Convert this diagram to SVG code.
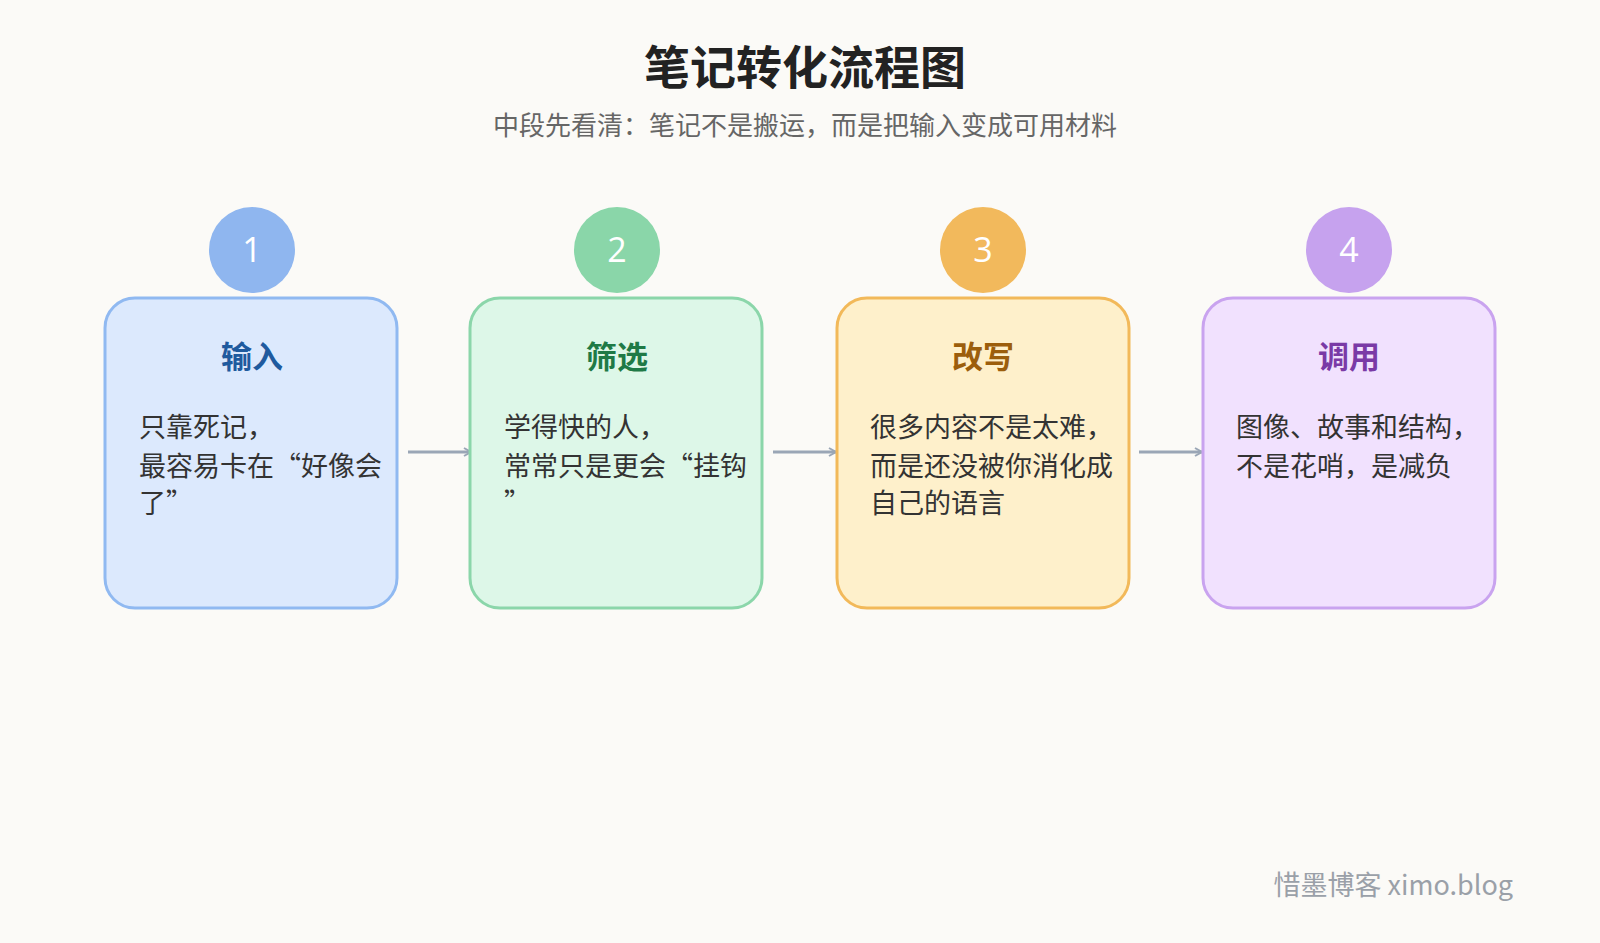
<svg xmlns="http://www.w3.org/2000/svg" width="1600" height="943" viewBox="0 0 1600 943">
<style>
text{font-family:"Noto Sans CJK SC","Noto Sans",sans-serif}
.h{font-size:31px;font-weight:bold;text-anchor:middle}
.b{font-size:27px;fill:#333}
.n{font-size:34px;fill:#fff;text-anchor:middle;font-family:"Open Sans",sans-serif}
.box{stroke-width:3}
.c{stroke:#9aa6b6;stroke-width:3;fill:none}
</style>
<defs><marker id="ar" markerWidth="10" markerHeight="10" refX="8" refY="5" orient="auto" markerUnits="userSpaceOnUse"><path d="M1,1 L8,5 L1,9" fill="none" stroke="#9aa6b6" stroke-width="2"/></marker></defs>
<rect width="1600" height="943" fill="#fbfaf7"/>
<text x="805" y="84" font-size="46" font-weight="bold" text-anchor="middle" fill="#222">笔记转化流程图</text>
<text x="805" y="135" font-size="26" text-anchor="middle" fill="#666">中段先看清：笔记不是搬运，而是把输入变成可用材料</text>
<g id="connectors">
<line class="c" x1="408" y1="452" x2="471" y2="452" marker-end="url(#ar)"/>
<line class="c" x1="773" y1="452" x2="836" y2="452" marker-end="url(#ar)"/>
<line class="c" x1="1139" y1="452" x2="1202" y2="452" marker-end="url(#ar)"/>
</g>
<g id="node1">
<rect class="box" x="105" y="298" width="292" height="310" rx="30" fill="#dce9fd" stroke="#90b9f1"/>
<circle cx="252" cy="250" r="43" fill="#8fb6ef"/><text class="n" x="252" y="262">1</text>
<text class="h" x="252" y="368" fill="#1f5a9e">输入</text>
<text class="b" x="139" y="437">只靠死记，</text><text class="b" x="139" y="476">最容易卡在“好像会</text><text class="b" x="139" y="513">了”</text>
</g>
<g id="node2">
<rect class="box" x="470" y="298" width="292" height="310" rx="30" fill="#ddf7e8" stroke="#8bd6aa"/>
<circle cx="617" cy="250" r="43" fill="#8ad6a9"/><text class="n" x="617" y="262">2</text>
<text class="h" x="617" y="368" fill="#1f7a46">筛选</text>
<text class="b" x="504" y="437">学得快的人，</text><text class="b" x="504" y="476">常常只是更会“挂钩</text><text class="b" x="504" y="513">”</text>
</g>
<g id="node3">
<rect class="box" x="837" y="298" width="292" height="310" rx="30" fill="#fef0cb" stroke="#f2b95a"/>
<circle cx="983" cy="250" r="43" fill="#f2b95c"/><text class="n" x="983" y="262">3</text>
<text class="h" x="983" y="368" fill="#9c5e0c">改写</text>
<text class="b" x="870" y="437">很多内容不是太难，</text><text class="b" x="870" y="476">而是还没被你消化成</text><text class="b" x="870" y="513">自己的语言</text>
</g>
<g id="node4">
<rect class="box" x="1203" y="298" width="292" height="310" rx="30" fill="#f1e1fe" stroke="#c9a3ef"/>
<circle cx="1349" cy="250" r="43" fill="#c6a2ee"/><text class="n" x="1349" y="262">4</text>
<text class="h" x="1349" y="368" fill="#7a3aa6">调用</text>
<text class="b" x="1236" y="437">图像、故事和结构，</text><text class="b" x="1236" y="476">不是花哨，是减负</text>
</g>
<text x="1513" y="895" font-size="27" text-anchor="end" fill="#9aa0a8">惜墨博客 ximo.blog</text>
</svg>
